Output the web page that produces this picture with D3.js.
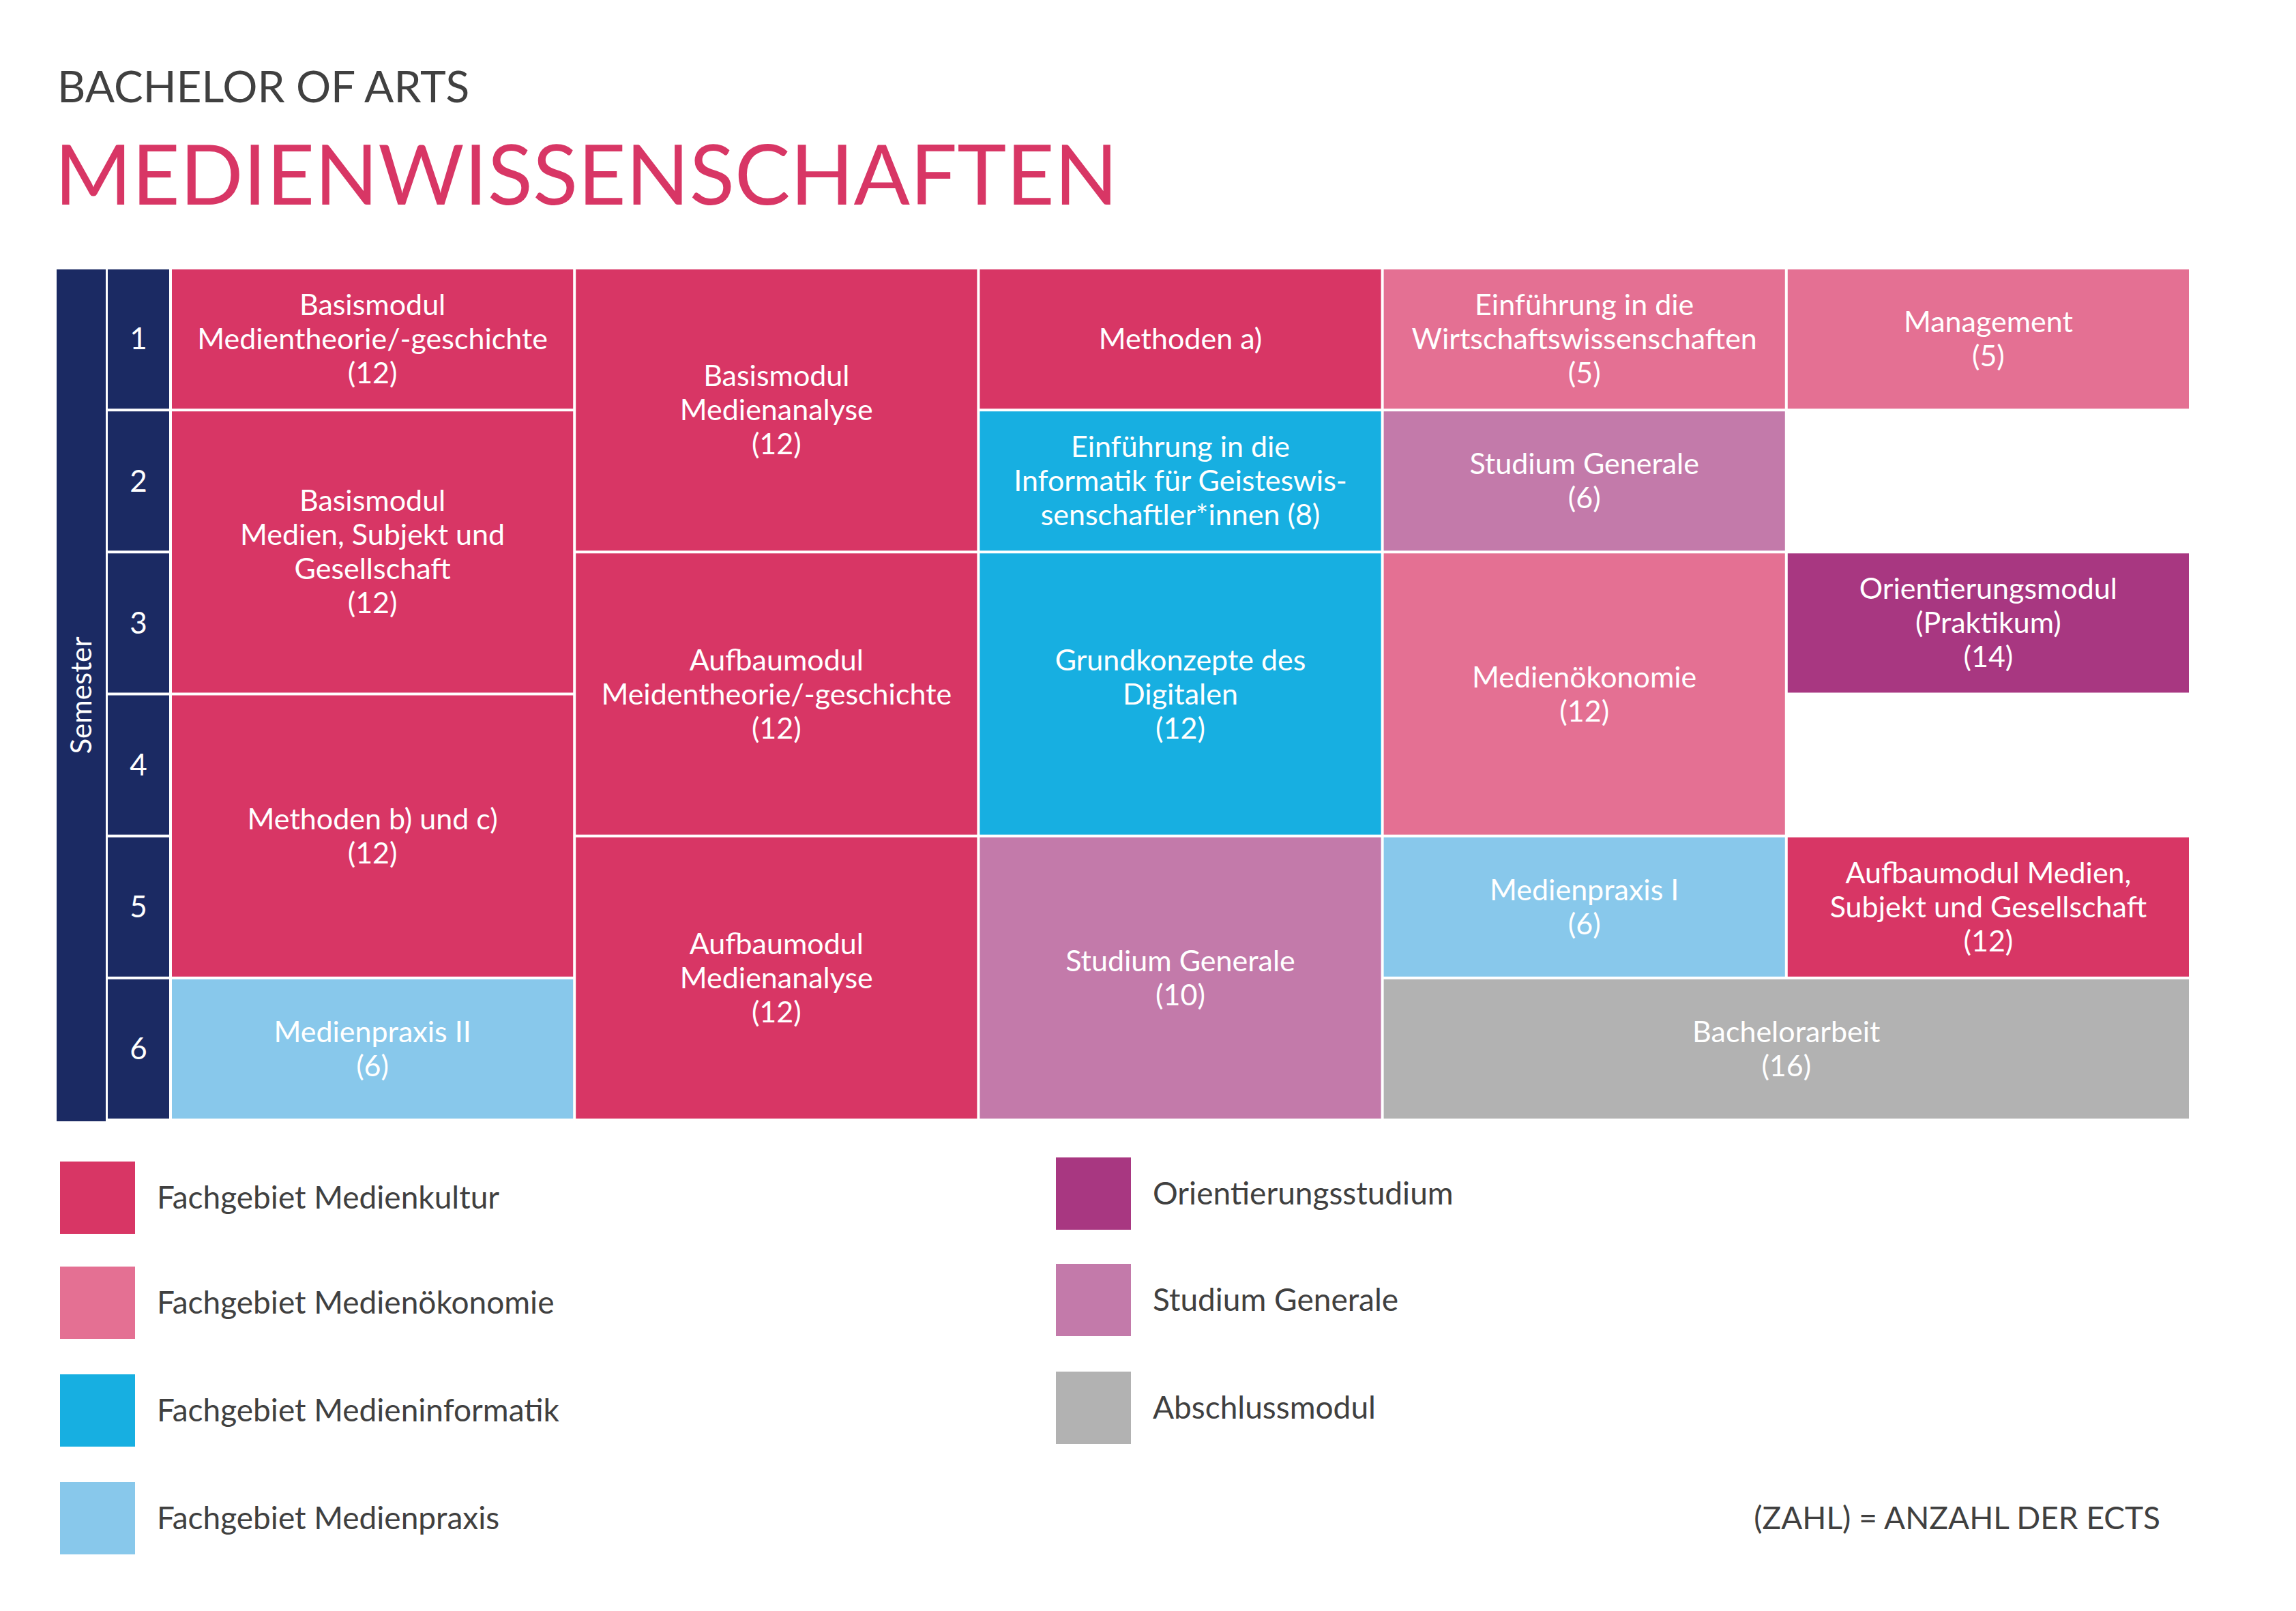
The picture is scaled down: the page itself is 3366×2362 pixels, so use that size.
<!DOCTYPE html>
<html>
<head>
<meta charset="utf-8">
<style>
  body { margin: 0; background: #fff; }
  text { font-family: Lato, "Open Sans", sans-serif; }
</style>
</head>
<body>
<script src="https://cdn.jsdelivr.net/npm/d3@7"></script>
<script>
// data /////////////////////////////////////////////////////////////////////

var semesters = [1, 2, 3, 4, 5, 6];
var columns = [0, 1, 2, 3, 4];

var categories = ["kultur", "oekonomie", "informatik", "praxis", "orient", "generale", "abschluss"];
var catLabels = ["Fachgebiet Medienkultur", "Fachgebiet Medienökonomie", "Fachgebiet Medieninformatik",
                 "Fachgebiet Medienpraxis", "Orientierungsstudium", "Studium Generale", "Abschlussmodul"];
var catColors = ["#d83665", "#e47093", "#17afe1", "#88c8eb", "#a83781", "#c37aaa", "#b2b2b2"];

// [column, first semester, number of semesters, number of columns, category, label lines]
var modules = [
  [0, 1, 1, 1, "kultur", ["Basismodul", "Medientheorie/-geschichte", "(12)"]],
  [0, 2, 2, 1, "kultur", ["Basismodul", "Medien, Subjekt und", "Gesellschaft", "(12)"]],
  [0, 4, 2, 1, "kultur", ["Methoden b) und c)", "(12)"]],
  [0, 6, 1, 1, "praxis", ["Medienpraxis II", "(6)"]],
  [1, 1, 2, 1, "kultur", ["Basismodul", "Medienanalyse", "(12)"]],
  [1, 3, 2, 1, "kultur", ["Aufbaumodul", "Meidentheorie/-geschichte", "(12)"]],
  [1, 5, 2, 1, "kultur", ["Aufbaumodul", "Medienanalyse", "(12)"]],
  [2, 1, 1, 1, "kultur", ["Methoden a)"]],
  [2, 2, 1, 1, "informatik", ["Einführung in die", "Informatik für Geisteswis-", "senschaftler*innen (8)"]],
  [2, 3, 2, 1, "informatik", ["Grundkonzepte des", "Digitalen", "(12)"]],
  [2, 5, 2, 1, "generale", ["Studium Generale", "(10)"]],
  [3, 1, 1, 1, "oekonomie", ["Einführung in die", "Wirtschaftswissenschaften", "(5)"]],
  [3, 2, 1, 1, "generale", ["Studium Generale", "(6)"]],
  [3, 3, 2, 1, "oekonomie", ["Medienökonomie", "(12)"]],
  [3, 5, 1, 1, "praxis", ["Medienpraxis I", "(6)"]],
  [3, 6, 1, 2, "abschluss", ["Bachelorarbeit", "(16)"]],
  [4, 1, 1, 1, "oekonomie", ["Management", "(5)"]],
  [4, 3, 1, 1, "orient", ["Orientierungsmodul", "(Praktikum)", "(14)"]],
  [4, 5, 1, 1, "kultur", ["Aufbaumodul Medien,", "Subjekt und Gesellschaft", "(12)"]]
];

// layout ///////////////////////////////////////////////////////////////////

var W = 3366, H = 2362;
var color = d3.scaleOrdinal(categories, catColors);

var svg = d3.select("body").append("svg")
    .attr("width", W).attr("height", H);

svg.append("text").attr("x", 84).attr("y", 150)
    .attr("font-size", 64).attr("fill", "#404040")
    .text("BACHELOR OF ARTS");
svg.append("text").attr("x", 80).attr("y", 300)
    .attr("font-size", 122).attr("fill", "#d83665")
    .text("MEDIENWISSENSCHAFTEN");

var x = d3.scaleLinear().domain([0, 5]).range([252, 3213]);
var y = d3.scaleLinear().domain([1, 7]).range([395, 1644]);
var gap = 4;

// semester bar
svg.append("rect").attr("x", 83).attr("y", y(1))
    .attr("width", 72).attr("height", y(7) - y(1)).attr("fill", "#1b2a63");
svg.append("text")
    .attr("transform", `translate(${119},${(y(1) + y(7)) / 2}) rotate(-90)`)
    .attr("text-anchor", "middle").attr("dy", "0.35em")
    .attr("font-size", 42).attr("fill", "#fff").text("Semester");

var nums = svg.selectAll(".num").data(semesters).join("g").attr("class", "num");
nums.append("rect")
    .attr("x", 158).attr("y", d => y(d))
    .attr("width", 90).attr("height", d => y(d + 1) - y(d) - gap)
    .attr("fill", "#1b2a63");
nums.append("text")
    .attr("x", 203).attr("y", d => (y(d) + y(d + 1) - gap) / 2)
    .attr("text-anchor", "middle").attr("dy", "0.35em")
    .attr("font-size", 44).attr("fill", "#fff").text(d => d);

// modules
var lh = 50;
var cells = svg.selectAll(".mod").data(modules).join("g").attr("class", "mod");
cells.append("rect")
    .attr("x", d => x(d[0]))
    .attr("y", d => y(d[1]))
    .attr("width", d => x(d[0] + d[3]) - x(d[0]) - gap)
    .attr("height", d => y(d[1] + d[2]) - y(d[1]) - gap)
    .attr("fill", d => color(d[4]));
cells.each(function(d) {
  var cx = (x(d[0]) + x(d[0] + d[3]) - gap) / 2;
  var cy = (y(d[1]) + y(d[1] + d[2]) - gap) / 2;
  var n = d[5].length;
  d3.select(this).selectAll("text").data(d[5]).join("text")
      .attr("x", cx)
      .attr("y", (t, i) => cy + (i - (n - 1) / 2) * lh)
      .attr("dy", "0.35em")
      .attr("text-anchor", "middle")
      .attr("font-size", 43).attr("fill", "#fff")
      .text(t => t);
});

// legend
var legendPos = [[88, 1756], [88, 1910], [88, 2068], [88, 2226], [1548, 1750], [1548, 1906], [1548, 2064]];
var leg = svg.selectAll(".leg").data(categories).join("g").attr("class", "leg")
    .attr("transform", (d, i) => `translate(${legendPos[i][0]},${legendPos[i][1]})`);
leg.append("rect").attr("x", 0).attr("y", -53).attr("width", 110).attr("height", 106)
    .attr("fill", d => color(d));
leg.append("text").attr("x", 142).attr("dy", "0.35em")
    .attr("font-size", 46).attr("fill", "#404040")
    .text((d, i) => catLabels[i]);

svg.append("text").attr("x", 3167).attr("y", 2226).attr("dy", "0.35em")
    .attr("text-anchor", "end").attr("font-size", 46).attr("fill", "#404040")
    .text("(ZAHL) = ANZAHL DER ECTS");
</script>
</body>
</html>
